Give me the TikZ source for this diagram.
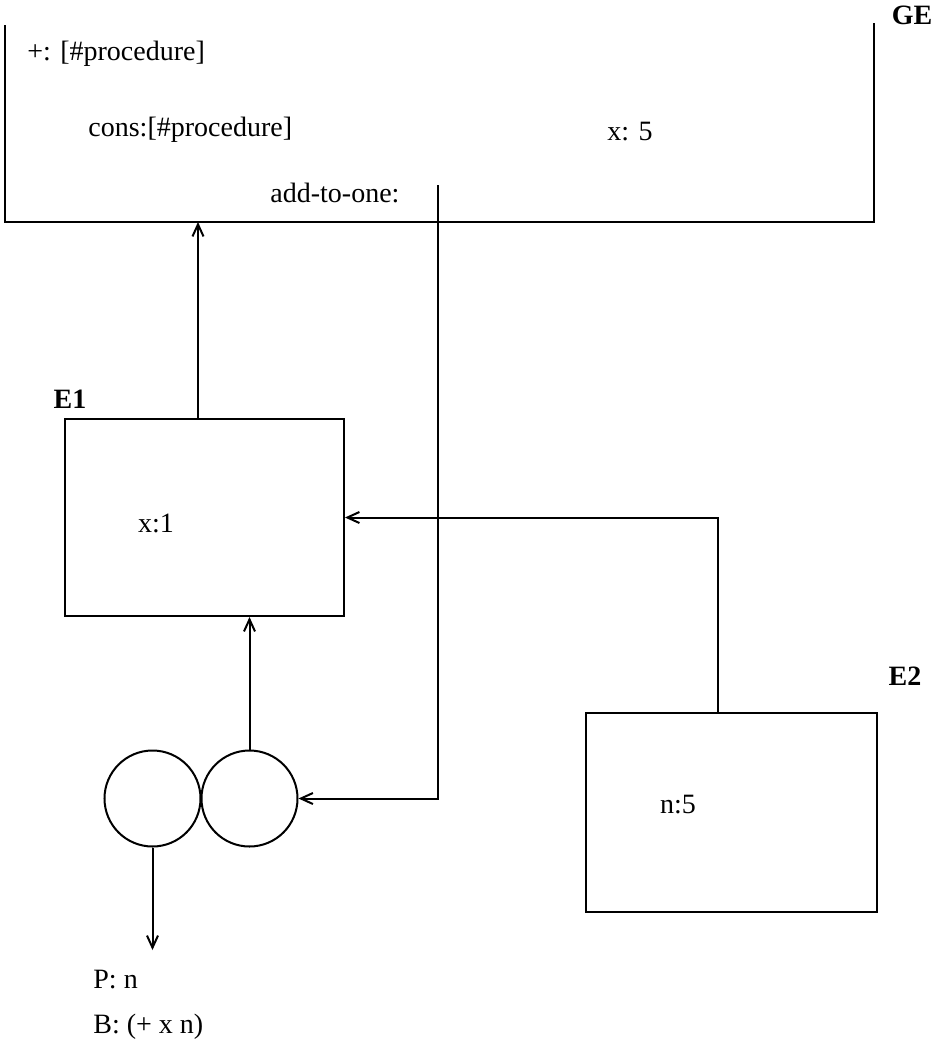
\documentclass[tikz,border=0pt]{standalone}
\usepackage{fontspec}
\setmainfont{Liberation Serif}
\usepackage{tikz}
\usetikzlibrary{arrows.meta,positioning}
\tikzset{
    envbox/.style={draw, line width=1pt, minimum width=139.5pt, minimum height=98.5pt, inner sep=0pt},
    ball/.style={draw, circle, line width=1pt, minimum size=48pt, inner sep=0pt},
    txt/.style={inner sep=0pt, font=\fontsize{14}{17}\selectfont},
    envname/.style={inner sep=0pt, font=\fontsize{14}{17}\selectfont\bfseries},
    link/.style={line width=1pt, ->, >={Straight Barb[length=6pt,width=5.5pt]}}
}

\begin{document}
\begin{tikzpicture}[x=0.5pt, y=-0.5pt]
        \useasboundingbox (0,0) rectangle (939,1041);
        % global environment
        \coordinate (getl) at (5,25); \coordinate (gebl) at (5,222); \coordinate (gebr) at (874,222); \coordinate (getr) at (874,23);
        \draw[line width=1pt] (getl) -- (gebl) -- (gebr) -- (getr);
        \node[envname] (ge) at (912,15) {GE};
        \node[txt, anchor=west] (plus) at (27,54) {+: [\#procedure]};
        \node[txt, anchor=west] (cons) at (88,130) {cons:[\#procedure]};
        \node[txt, anchor=west] (xfive) at (607,132) {x: 5};
        \node[txt, anchor=west] (addone) at (270,193) {add-to-one:};

        % E1 and E2
        \node[envbox] (e1) at (204.5,517.5) {};
        \node[envname] (e1name) at (70,399) {E1};
        \node[txt] (xone) at (156,523) {x:1};
        \node[envbox, minimum width=145.5pt, minimum height=99.5pt] (e2) at (731.5,711.5) [anchor=north] {};
        \node[envname] (e2name) at (905,676) {E2};
        \node[txt] (nfive) at (678,805) {n:5};

        % procedure object
        \node[ball] (lball) at (152.5,798.5) {};
        \node[ball] (rball) at (249.5,798.5) {};
        \coordinate (lbot) at (152.5,950);
        \node[txt, anchor=west] (param) at (93,980) {P: n};
        \node[txt, anchor=west] (body) at (93,1027) {B: (+ x n)};

        % pointers
        \coordinate (e1up) at (198,419); \coordinate (e2up) at (718,712); \coordinate (ptr) at (438,185);
        \draw[link] (e1up) -- (e1up |- gebl);
        \draw[link] (e2up) |- (e1.east);
        \draw[link] (rball.north) -- (rball.north |- e1.south);
        \draw[link] (ptr) |- (rball.east);
        \draw[link] (lball.south) -- (lbot);
    \end{tikzpicture}
\end{document}
